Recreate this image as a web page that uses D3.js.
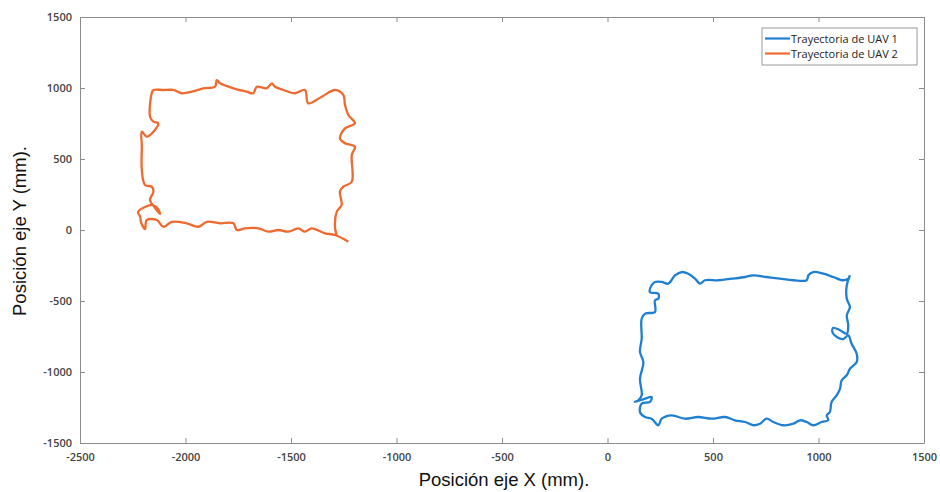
<html>
<head>
<meta charset="utf-8">
<script src="https://d3js.org/d3.v7.min.js"></script>
<style>
  body { margin: 0; background: #fff; }
  .tick text { font-family: "Open Sans", sans-serif; font-size: 11px; font-weight: 600; fill: #444; }
  .axis path, .axis line { stroke: #8c8c8c; }
  .title { font-family: "Liberation Sans", Arial, sans-serif; font-size: 18.5px; fill: #111; }
  .leg { font-family: "Open Sans", sans-serif; font-size: 11px; fill: #222; }
</style>
</head>
<body>
<script>
// tick labels
var xTicks = [-2500, -2000, -1500, -1000, -500, 0, 500, 1000, 1500];
var yTicks = [-1500, -1000, -500, 0, 500, 1000, 1500];
var seriesNames = ["Trayectoria de UAV 1", "Trayectoria de UAV 2"];
var seriesColors = ["#1f7fd0", "#ee6a2f"];

// UAV 1 trajectory (mm)
var uav1X = [1149, 1134, 1134, 1149, 1134, 1141, 1134, 1102, 1070, 1066, 1087, 1117, 1141, 1157, 1181, 1181, 1149, 1134, 1110, 1102, 1086, 1062, 1054, 1039, 1046, 1015, 975, 944, 912, 881, 833, 786, 754, 723, 691, 652, 604, 557, 494, 430, 367, 304, 257, 241, 209, 178, 154, 162, 201, 209, 178, 130, 146, 162, 154, 170, 154, 162, 162, 178, 225, 225, 241, 241, 201, 209, 225, 257, 288, 320, 352, 383, 415, 438, 462, 525, 589, 652, 691, 754, 817, 881, 944, 952, 975, 1023, 1070, 1117, 1141];
var uav1Y = [-319, -389, -484, -542, -601, -671, -730, -706, -689, -720, -754, -768, -742, -801, -871, -930, -977, -1023, -1058, -1118, -1164, -1211, -1282, -1305, -1340, -1352, -1375, -1352, -1340, -1364, -1375, -1352, -1329, -1364, -1375, -1352, -1340, -1317, -1329, -1317, -1329, -1305, -1329, -1375, -1329, -1317, -1282, -1223, -1211, -1176, -1188, -1211, -1199, -1164, -1047, -930, -859, -765, -625, -589, -577, -495, -484, -449, -437, -389, -366, -366, -378, -319, -296, -308, -343, -378, -354, -354, -343, -331, -319, -331, -343, -354, -354, -319, -296, -308, -331, -354, -343];

// UAV 2 trajectory (mm)
var uav2X = [-1228, -1291, -1339, -1402, -1434, -1465, -1513, -1560, -1607, -1655, -1718, -1757, -1773, -1836, -1899, -1939, -1994, -2065, -2105, -2136, -2184, -2192, -2211, -2215, -2225, -2192, -2154, -2130, -2121, -2144, -2168, -2152, -2160, -2192, -2207, -2207, -2207, -2184, -2152, -2129, -2152, -2168, -2160, -2152, -2105, -2058, -2018, -1970, -1916, -1860, -1852, -1836, -1773, -1710, -1679, -1662, -1615, -1591, -1576, -1536, -1481, -1434, -1418, -1354, -1291, -1252, -1244, -1228, -1197, -1244, -1268, -1244, -1197, -1212, -1212, -1252, -1268, -1260, -1283, -1291, -1283];
var uav2Y = [-82, -35, -23, 12, -12, 12, -12, 0, -12, 12, 12, 0, 47, 47, 58, 23, 47, 58, 23, 70, 70, 7, 56, 94, 127, 162, 176, 148, 113, 155, 211, 270, 305, 317, 423, 587, 692, 657, 692, 751, 763, 798, 963, 986, 986, 986, 963, 974, 998, 1009, 1056, 1033, 998, 974, 963, 1009, 998, 1033, 1009, 986, 963, 986, 892, 939, 986, 951, 880, 810, 751, 716, 646, 611, 587, 528, 340, 305, 270, 176, 129, 12, -35];

var W = 940, H = 492;
var mLeft = 80, mRight = 924, mTop = 17, mBottom = 443;

var svg = d3.select("body").append("svg").attr("width", W).attr("height", H);

var x = d3.scaleLinear().domain([-2500, 1500]).range([mLeft, mRight]);
var y = d3.scaleLinear().domain([-1500, 1500]).range([mBottom, mTop]);
var fmt = function(d) { return String(d); };

// axes (ticks inside, box on)
svg.append("g").attr("class", "axis").attr("transform", "translate(0," + mBottom + ")")
   .call(d3.axisBottom(x).tickValues(xTicks).tickFormat(fmt).tickSizeInner(-5).tickSizeOuter(0).tickPadding(10));
svg.append("g").attr("class", "axis").attr("transform", "translate(" + mLeft + ",0)")
   .call(d3.axisLeft(y).tickValues(yTicks).tickFormat(fmt).tickSizeInner(-5).tickSizeOuter(0).tickPadding(8));
svg.append("g").attr("class", "axis").attr("transform", "translate(0," + mTop + ")")
   .call(d3.axisTop(x).tickValues(xTicks).tickSizeInner(-5).tickSizeOuter(0).tickFormat(""));
svg.append("g").attr("class", "axis").attr("transform", "translate(" + mRight + ",0)")
   .call(d3.axisRight(y).tickValues(yTicks).tickSizeInner(-5).tickSizeOuter(0).tickFormat(""));

// trajectories
var line = d3.line().x(function(d) { return x(d[0]); }).y(function(d) { return y(d[1]); })
             .curve(d3.curveCatmullRom.alpha(0.5));
var series = [d3.zip(uav1X, uav1Y), d3.zip(uav2X, uav2Y)];
svg.selectAll(".traj").data(series).enter().append("path")
   .attr("class", "traj")
   .attr("d", line)
   .attr("fill", "none")
   .attr("stroke", function(d, i) { return seriesColors[i]; })
   .attr("stroke-width", 2.3)
   .attr("stroke-linejoin", "round");

// axis titles
svg.append("text").attr("class", "title").attr("x", 504).attr("y", 486)
   .attr("text-anchor", "middle").text("Posición eje X (mm).");
svg.append("text").attr("class", "title")
   .attr("transform", "translate(26," + 231 + ") rotate(-90)")
   .attr("text-anchor", "middle").text("Posición eje Y (mm).");

// legend
var leg = svg.append("g").attr("transform", "translate(762,28)");
leg.append("rect").attr("width", 155).attr("height", 37)
   .attr("fill", "#fff").attr("stroke", "#999").attr("stroke-width", 1);
seriesNames.forEach(function(name, i) {
  var yy = 10.5 + i * 15;
  leg.append("line").attr("x1", 3).attr("x2", 28).attr("y1", yy).attr("y2", yy)
     .attr("stroke", seriesColors[i]).attr("stroke-width", 2.2);
  leg.append("text").attr("class", "leg").attr("x", 29).attr("y", yy + 4).text(name);
});
</script>
</body>
</html>
